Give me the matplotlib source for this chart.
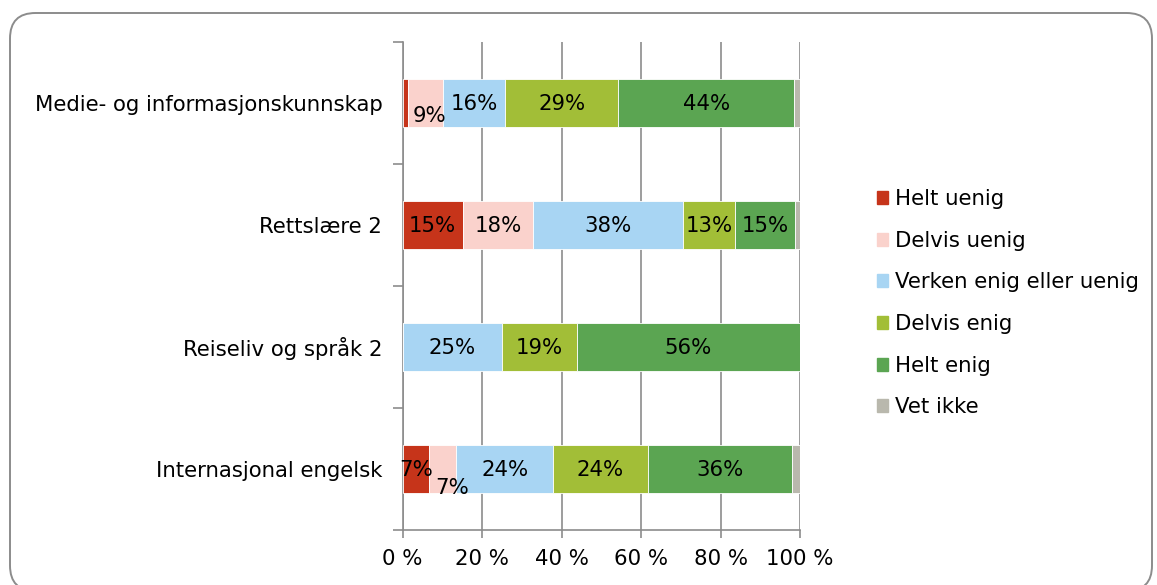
import matplotlib
matplotlib.use("Agg")
import matplotlib.pyplot as plt
from matplotlib.patches import FancyBboxPatch, Patch
import numpy as np

# %% data (percent per answer)
courses = ["Medie- og informasjonskunnskap", "Rettslære 2",
           "Reiseliv og språk 2", "Internasjonal engelsk"]
answers = ["Helt uenig", "Delvis uenig", "Verken enig eller uenig",
           "Delvis enig", "Helt enig", "Vet ikke"]

helt_uenig = [1.4, 15.2, 0, 6.7]
delvis_uenig = [8.7, 17.7, 0, 6.8]
verken = [15.7, 37.6, 25.0, 24.4]
delvis_enig = [28.5, 13.1, 18.8, 23.8]
helt_enig = [44.2, 15.1, 56.2, 36.4]
vet_ikke = [1.5, 1.3, 0, 1.9]

# labels shown inside the bars ("" = no label)
labels = [
    ["", "9%", "16%", "29%", "44%", ""],
    ["15%", "18%", "38%", "13%", "15%", ""],
    ["", "", "25%", "19%", "56%", ""],
    ["7%", "7%", "24%", "24%", "36%", ""],
]

colors = ["#C6341A", "#FAD2CC", "#A8D5F3", "#A2BE37", "#5BA552", "#B9B8AD"]

# label nudges in points (dx, dy) where Excel moved crowded labels
nudges = {(0, 1): (3, -8), (3, 1): (7, -13)}

FS = 15.3

# %% plot
series = [helt_uenig, delvis_uenig, verken, delvis_enig, helt_enig, vet_ikke]
W, H = 1157, 585
fig = plt.figure(figsize=(W / 100, H / 100), dpi=100)

# rounded chart border (runs off the bottom edge like in the screenshot)
frame = FancyBboxPatch((10 / W, -6 / H), 1142 / W, 578 / H,
                       boxstyle="round,pad=0,rounding_size=0.022",
                       transform=fig.transFigure, fc="white", ec="#8C8C8C",
                       lw=1.4, mutation_aspect=W / H, zorder=-10)
fig.patches.append(frame)

ax = fig.add_axes([402.5 / W, 1 - 530 / H, 397.5 / W, 488 / H])
ax.set_facecolor("none")

y = np.arange(len(courses))
left = np.zeros(len(courses))
for i, (vals, col, name) in enumerate(zip(series, colors, answers)):
    vals = np.array(vals)
    ax.barh(y, vals, left=left, height=0.4, color=col, edgecolor="white",
            linewidth=0.6, label=name, zorder=3)
    for r in range(len(courses)):
        txt = labels[r][i]
        if txt:
            dx, dy = nudges.get((r, i), (0, 0))
            ax.annotate(txt, (left[r] + vals[r] / 2, y[r]), xytext=(dx, dy - 1),
                        textcoords="offset points", ha="center", va="center",
                        fontsize=FS, color="black", zorder=4)
    left += vals

ax.set_xlim(0, 100)
ax.set_ylim(3.5, -0.5)

ax.set_xticks(np.arange(0, 101, 20))
ax.set_xticklabels([f"{v} %" for v in range(0, 101, 20)], fontsize=FS)
ax.xaxis.grid(True, color="#8C8C8C", lw=1.2, zorder=0)
ax.tick_params(axis="x", length=6, width=1.2, color="#8C8C8C", pad=7.5)

ax.set_yticks(np.arange(-0.5, 4, 1))
ax.set_yticklabels([])
ax.set_yticks(y, minor=True)
ax.set_yticklabels(courses, minor=True, fontsize=FS)
ax.tick_params(axis="y", which="major", length=7, width=1.2, color="#8C8C8C")
ax.tick_params(axis="y", which="minor", length=0, pad=14.5)

for s in ["top", "right"]:
    ax.spines[s].set_visible(False)
for s in ["left", "bottom"]:
    ax.spines[s].set_color("#8C8C8C")
    ax.spines[s].set_linewidth(1.2)

handles = [Patch(color=c) for c in colors]
fig.legend(handles, answers, loc="upper left", bbox_to_anchor=(868 / W, 1 - 180.5 / H),
           frameon=False, fontsize=FS, handlelength=0.55, handleheight=0.55,
           handletextpad=0.3, labelspacing=1.02, borderaxespad=0)

fig.savefig("out.png", dpi=100)
